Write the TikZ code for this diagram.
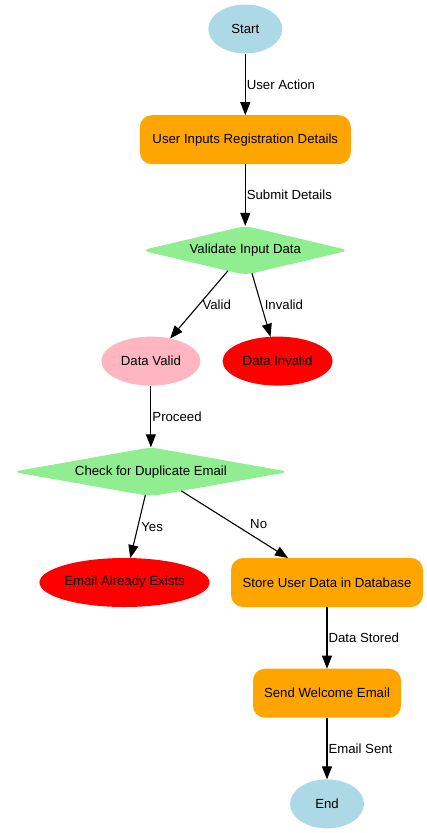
\documentclass[tikz,border=0pt]{standalone}
\usepackage{fontspec}
\setmainfont{Liberation Sans}
\usepackage{xcolor}
\usepackage{tikz}
\usetikzlibrary{shapes, arrows.meta, positioning}

\definecolor{lightblue}{HTML}{ADD8E6}
\definecolor{stepyellow}{HTML}{FFA500}
\definecolor{lightgreen}{HTML}{90EE90}
\definecolor{lightpink}{HTML}{FFB6C1}

\begin{document}
\begin{tikzpicture}[>={Triangle[length=13pt, width=10pt]},
					font=\fontsize{13.2}{15}\selectfont,
					terminal/.style={ellipse, fill=lightblue, inner sep=0pt, outer sep=0pt, minimum width=74pt, minimum height=49pt},
					process/.style={rectangle, rounded corners=12pt, fill=stepyellow, inner sep=0pt, outer sep=0pt, minimum height=49pt},
					decision/.style={diamond, rounded corners=8pt, aspect=5, fill=lightgreen, inner sep=0pt, outer sep=0pt, minimum height=49pt},
					outcome/.style={ellipse, inner sep=0pt, outer sep=0pt, minimum height=49pt},
					arrow/.style={->, line width=1.1pt},
					lbl/.style={right, inner sep=1pt},
					node distance=61.7pt
				]
					\useasboundingbox (0,0) rectangle (427pt,-833pt);
					
					% Nodes
					\node[terminal] (start) at (245.3pt,-29pt) {Start};
					\node[process, minimum width=211pt, below=of start] (inputs) {User Inputs Registration Details};
					\node[decision, minimum width=208pt, below=of inputs] (validate) {Validate Input Data};
					\node[outcome, fill=lightpink, minimum width=99pt, below=of validate, xshift=-94.4pt] (datavalid) {Data Valid};
					\node[outcome, fill=red, minimum width=110pt, below=of validate, xshift=32.3pt] (datainvalid) {Data Invalid};
					\node[decision, minimum width=277pt, below=of datavalid] (checkdup) {Check for Duplicate Email};
					\node[outcome, fill=red, minimum width=170pt, below=of checkdup, xshift=-26.4pt] (exists) {Email Already Exists};
					\node[process, minimum width=192pt, below=of checkdup, xshift=176.1pt] (store) {Store User Data in Database};
					\node[process, minimum width=148pt, below=of store] (welcome) {Send Welcome Email};
					\node[terminal, below=of welcome] (end) {End};
					
					% Arrows
					\draw[arrow] (start) -- node[lbl] {User Action} (inputs);
					\draw[arrow] (inputs) -- node[lbl] {Submit Details} (validate);
					\draw[arrow] (validate) -- node[lbl, right=2pt] {Valid} (datavalid);
					\draw[arrow] (validate) -- node[lbl, right=2pt] {Invalid} (datainvalid);
					\draw[arrow] (datavalid) -- node[lbl] {Proceed} (checkdup);
					\draw[arrow] (checkdup) -- node[lbl, right=2pt] {Yes} (exists);
					\draw[arrow] (checkdup) -- node[lbl, right=14pt] {No} (store);
					\draw[arrow] (store) -- node[lbl] {Data Stored} (welcome);
					\draw[arrow] (welcome) -- node[lbl] {Email Sent} (end);
				\end{tikzpicture}
\end{document}
